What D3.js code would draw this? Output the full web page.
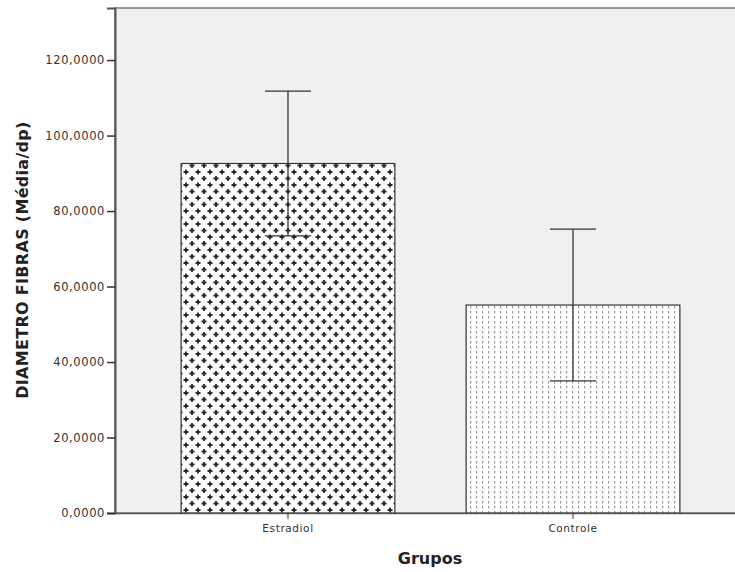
<!DOCTYPE html>
<html>
<head>
<meta charset="utf-8">
<script src="https://cdn.jsdelivr.net/npm/d3@7"></script>
<style>
  body { margin: 0; background: #fff; }
  svg { display: block; }
  .tick text { font-family: "DejaVu Sans", sans-serif; font-size: 11.5px; fill: #333; letter-spacing: 0.6px; }
  .title { font-family: "DejaVu Sans", sans-serif; font-weight: bold; fill: #222; }
</style>
</head>
<body>
<div id="chart"></div>
<script>
// data
let groups = ["Estradiol", "Controle"];
let means = [92.6, 55.1];
let sds = [19.2, 20.1];
let yTicks = [0, 20, 40, 60, 80, 100, 120];

let width = 735;
let height = 572;
let plotLeft = 115, plotTop = 8, plotBottom = 513, plotRight = 746;

let svg = d3.select("#chart")
    .append("svg")
    .attr("width", width)
    .attr("height", height);

let defs = svg.append("defs");

// cross hatch for Estradiol
let cross = defs.append("pattern")
    .attr("id", "cross")
    .attr("patternUnits", "userSpaceOnUse")
    .attr("width", 12)
    .attr("height", 13)
    .attr("x", plotLeft + 68)
    .attr("y", 0);
cross.append("rect").attr("width", 12).attr("height", 13).attr("fill", "#fff");
[[3, 3], [9, 9.5]].forEach(p => {
    cross.append("path")
        .attr("d", `M${p[0] - 2.5},${p[1]}H${p[0] + 2.5}M${p[0]},${p[1] - 2.5}V${p[1] + 2.5}`)
        .attr("stroke", "#2a2a2a")
        .attr("stroke-width", 1.8);
});

// dotted vertical lines for Controle
let dots = defs.append("pattern")
    .attr("id", "dots")
    .attr("patternUnits", "userSpaceOnUse")
    .attr("width", 6)
    .attr("height", 5);
dots.append("rect").attr("width", 6).attr("height", 5).attr("fill", "#fff");
dots.append("rect")
    .attr("x", 2).attr("y", 1)
    .attr("width", 1.2).attr("height", 2.5)
    .attr("fill", "#999");

let x = d3.scaleBand()
    .domain(groups)
    .range([plotLeft, plotRight])
    .paddingInner(0.25)
    .paddingOuter(0.232);

let y = d3.scaleLinear()
    .domain([0, 133.8])
    .range([plotBottom, plotTop]);

// plot background
svg.append("rect")
    .attr("x", plotLeft)
    .attr("y", plotTop)
    .attr("width", plotRight - plotLeft)
    .attr("height", plotBottom - plotTop)
    .attr("fill", "#f0f0f0")
    .attr("stroke", "#777")
    .attr("stroke-width", 1.5);

let fills = ["url(#cross)", "url(#dots)"];

svg.selectAll(".bar")
    .data(groups)
    .enter()
    .append("rect")
    .attr("class", "bar")
    .attr("x", d => x(d))
    .attr("y", (d, i) => y(means[i]))
    .attr("width", x.bandwidth())
    .attr("height", (d, i) => y(0) - y(means[i]))
    .attr("fill", (d, i) => fills[i])
    .attr("stroke", "#333")
    .attr("stroke-width", 1.2);

// error bars
let capW = 23;
let err = svg.selectAll(".err")
    .data(groups)
    .enter()
    .append("g")
    .attr("class", "err")
    .attr("stroke", "#333")
    .attr("stroke-width", 1.3);

err.append("line")
    .attr("x1", d => x(d) + x.bandwidth() / 2)
    .attr("x2", d => x(d) + x.bandwidth() / 2)
    .attr("y1", (d, i) => y(means[i] + sds[i]))
    .attr("y2", (d, i) => y(means[i] - sds[i]));

[1, -1].forEach(s => {
    err.append("line")
        .attr("x1", d => x(d) + x.bandwidth() / 2 - capW)
        .attr("x2", d => x(d) + x.bandwidth() / 2 + capW)
        .attr("y1", (d, i) => y(means[i] + s * sds[i]))
        .attr("y2", (d, i) => y(means[i] + s * sds[i]));
});

// axes
let fmt = v => d3.format(".4f")(v).replace(".", ",");

let yAxis = svg.append("g")
    .attr("transform", `translate(${plotLeft},0)`)
    .call(d3.axisLeft(y).tickValues(yTicks).tickFormat(fmt).tickSize(8).tickPadding(2));
yAxis.select(".domain").attr("stroke", "#555").attr("stroke-width", 2);
yAxis.selectAll(".tick line").attr("stroke", "#333").attr("stroke-width", 1.5);

let xAxis = svg.append("g")
    .attr("transform", `translate(0,${plotBottom})`)
    .call(d3.axisBottom(x).tickSize(6).tickPadding(6).tickSizeOuter(0));
xAxis.select(".domain").attr("stroke", "#555").attr("stroke-width", 1.5);
xAxis.selectAll(".tick line").attr("stroke", "#333");
xAxis.selectAll(".tick text").style("font-size", "10.5px");

svg.append("text")
    .attr("class", "title")
    .attr("transform", "translate(28,260) rotate(-90)")
    .attr("text-anchor", "middle")
    .style("font-size", "16px")
    .style("letter-spacing", "0.3px")
    .text("DIAMETRO FIBRAS (Média/dp)");

svg.append("text")
    .attr("class", "title")
    .attr("x", 430)
    .attr("y", 564)
    .attr("text-anchor", "middle")
    .style("font-size", "16px")
    .text("Grupos");
</script>
</body>
</html>
